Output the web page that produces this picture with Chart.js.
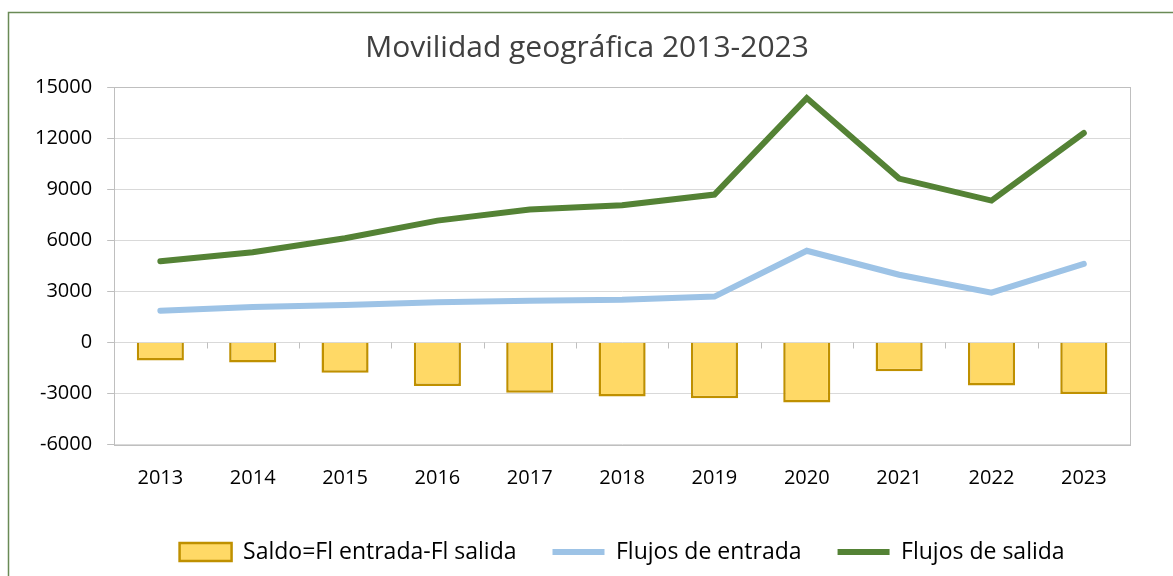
<!DOCTYPE html>
<html>
<head>
<meta charset="utf-8">
<script src="https://cdn.jsdelivr.net/npm/chart.js@4"></script>
<style>
  html, body { margin: 0; padding: 0; background: #fff; overflow: hidden; }
  #wrap { width: 1173px; height: 576px; position: relative; }
</style>
</head>
<body>
<div id="wrap"><canvas id="myChart"></canvas></div>
<script>
// datos
const anios = ['2013','2014','2015','2016','2017','2018','2019','2020','2021','2022','2023'];
const saldo = [-1060, -1180, -1790, -2570, -2960, -3180, -3290, -3530, -1690, -2530, -3040];
const flujosEntrada = [1860, 2080, 2200, 2350, 2450, 2500, 2690, 5380, 3970, 2920, 4610];
const flujosSalida = [4770, 5290, 6120, 7150, 7800, 8050, 8680, 14350, 9620, 8330, 12300];
const ticksY = [-6000, -3000, 0, 3000, 6000, 9000, 12000, 15000];

const fuente = '"Open Sans", "Noto Sans", sans-serif';

// marco exterior + borde del area del grafico + marcas del eje en cero
const marco = {
  id: 'marco',
  afterLayout(chart) {
    // el grafico original esta recortado a la derecha, el titulo queda algo desplazado
    chart.titleBlock.left += 12;
    chart.titleBlock.right += 12;
  },
  beforeDraw(chart) {
    const c = chart.ctx;
    c.save();
    c.fillStyle = '#fff';
    c.fillRect(0, 0, chart.width, chart.height);
    c.strokeStyle = '#6a8a56';
    c.lineWidth = 1.5;
    c.strokeRect(8.5, 12.5, chart.width + 20, chart.height + 20);
    c.restore();
  },
  afterDatasetsDraw(chart) {
    const c = chart.ctx;
    const a = chart.chartArea;
    const x = chart.scales.x, y = chart.scales.y;
    c.save();
    c.strokeStyle = '#bfbfbf';
    c.lineWidth = 1;
    c.strokeRect(Math.round(a.left) + 0.5, Math.round(a.top) + 0.5, Math.round(a.right - a.left), Math.round(a.bottom - a.top));
    const y0 = Math.round(y.getPixelForValue(0)) + 0.5;
    c.beginPath();
    for (let i = 1; i < anios.length; i++) {
      const xp = Math.round((x.getPixelForValue(i - 1) + x.getPixelForValue(i)) / 2) + 0.5;
      c.moveTo(xp, y0);
      c.lineTo(xp, y0 + 6);
    }
    c.stroke();
    c.restore();
  }
};

new Chart(document.getElementById('myChart'), {
  data: {
    labels: anios,
    datasets: [
      {
        type: 'bar',
        label: 'Saldo=Fl entrada-Fl salida',
        data: saldo,
        backgroundColor: '#FFD966',
        borderColor: '#BF9000',
        borderWidth: 2.5,
        barPercentage: 0.51,
        categoryPercentage: 1,
        pointStyle: 'rect',
        order: 3
      },
      {
        type: 'line',
        label: 'Flujos de entrada',
        data: flujosEntrada,
        borderColor: '#9DC3E6',
        backgroundColor: '#9DC3E6',
        borderWidth: 6,
        borderCapStyle: 'round',
        pointRadius: 0,
        pointStyle: 'line',
        tension: 0,
        order: 2
      },
      {
        type: 'line',
        label: 'Flujos de salida',
        data: flujosSalida,
        borderColor: '#548235',
        backgroundColor: '#548235',
        borderWidth: 6,
        borderCapStyle: 'round',
        pointRadius: 0,
        pointStyle: 'line',
        tension: 0,
        order: 1
      }
    ]
  },
  options: {
    responsive: true,
    maintainAspectRatio: false,
    animation: false,
    layout: { padding: { left: 20, right: 43, top: 22, bottom: 2.5 } },
    plugins: {
      title: {
        display: true,
        text: 'Movilidad geográfica 2013-2023',
        color: '#404040',
        font: { family: fuente, size: 30, weight: 'normal' },
        padding: { top: 8, bottom: 21 }
      },
      legend: {
        position: 'bottom',
        fullSize: false,
        labels: {
          usePointStyle: true,
          pointStyleWidth: 52,
          boxHeight: 18,
          padding: 36,
          color: '#000',
          font: { family: fuente, size: 23 },
          sort: (a, b) => a.datasetIndex - b.datasetIndex
        }
      },
      tooltip: { enabled: false }
    },
    scales: {
      x: {
        grid: { display: false },
        border: { display: false },
        ticks: { color: '#000', font: { family: fuente, size: 20 }, padding: 14 }
      },
      y: {
        min: -6000,
        max: 15000,
        afterBuildTicks(axis) { axis.ticks = ticksY.map(v => ({ value: v })); },
        grid: { color: '#d9d9d9', drawTicks: true, tickLength: 7, tickColor: '#bfbfbf' },
        border: { color: '#bfbfbf' },
        ticks: {
          color: '#000',
          font: { family: fuente, size: 20 },
          padding: 15,
          callback: v => String(v)
        }
      }
    }
  },
  plugins: [marco]
});
</script>
</body>
</html>
